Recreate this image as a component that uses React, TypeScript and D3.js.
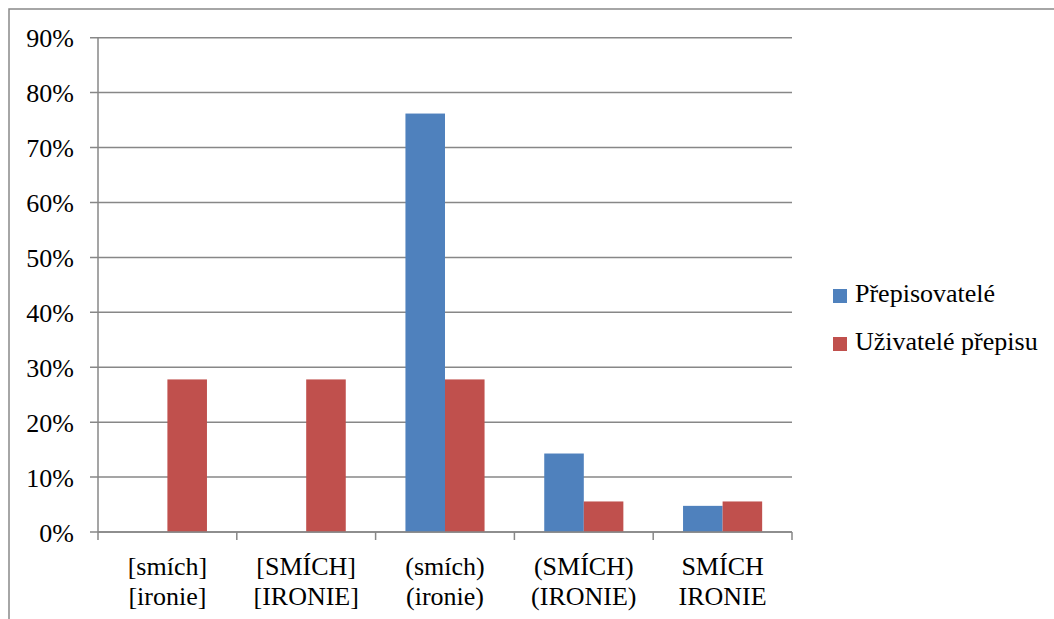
import React from "react";
import * as d3 from "d3";

const categories: string[][] = [
  ["[smích]", "[ironie]"],
  ["[SMÍCH]", "[IRONIE]"],
  ["(smích)", "(ironie)"],
  ["(SMÍCH)", "(IRONIE)"],
  ["SMÍCH", "IRONIE"],
];
const seriesNames = ["Přepisovatelé", "Uživatelé přepisu"];
const prepisovatele = [0, 0, 0.7619, 0.1429, 0.0476];
const uzivatele = [0.2778, 0.2778, 0.2778, 0.0556, 0.0556];
const yTicks = [0, 0.1, 0.2, 0.3, 0.4, 0.5, 0.6, 0.7, 0.8, 0.9];
const colors = ["#4F81BD", "#C0504D"];

const W = 1054;
const H = 619;
const left = 98;
const right = 792;
const top = 37.7;
const bottom = 532;
const font = "Liberation Serif, Tinos, Times New Roman, DejaVu Serif, serif";
const axisColor = "#878787";

export default function App() {
  const x = d3
    .scaleBand<number>()
    .domain(categories.map((_, i) => i))
    .range([left, right])
    .paddingInner(0)
    .paddingOuter(0);
  const y = d3.scaleLinear().domain([0, 0.9]).range([bottom, top]);
  const bw = x.bandwidth();
  const barW = bw * 0.285;
  const series = [prepisovatele, uzivatele];
  const textStyle = { fontFamily: font, fontSize: 26 };

  return (
    <div style={{ position: "absolute", left: 0, top: 0 }}>
      <svg width={W} height={H} style={{ display: "block", background: "#fff" }}>
        <rect x={9} y={9} width={1200} height={800} fill="none" stroke="#898989" strokeWidth={1.5} />
        {yTicks.map((t) => (
          <g key={t}>
            <line x1={left - 8} x2={right} y1={y(t)} y2={y(t)} stroke={axisColor} strokeWidth={1.5} />
            <text x={74} y={y(t) + 9.5} textAnchor="end" style={textStyle} fill="#000">
              {`${Math.round(t * 100)}%`}
            </text>
          </g>
        ))}
        {series.map((vals, s) =>
          vals.map((v, i) =>
            v > 0 ? (
              <rect
                key={`${s}-${i}`}
                x={(x(i) as number) + bw / 2 - barW + s * barW}
                y={y(v)}
                width={barW}
                height={y(0) - y(v)}
                fill={colors[s]}
              />
            ) : null
          )
        )}
        <line x1={left} x2={left} y1={top} y2={bottom} stroke={axisColor} strokeWidth={1.5} />
        <line x1={left} x2={right} y1={bottom} y2={bottom} stroke={axisColor} strokeWidth={1.5} />
        {d3.range(categories.length + 1).map((i) => {
          const xx = i < categories.length ? (x(i) as number) : right;
          return (
            <line key={i} x1={xx} x2={xx} y1={bottom} y2={bottom + 8} stroke={axisColor} strokeWidth={1.5} />
          );
        })}
        {categories.map((lines, i) => (
          <text key={i} x={(x(i) as number) + bw / 2} textAnchor="middle" style={textStyle} fill="#000">
            {lines.map((l, j) => (
              <tspan key={j} x={(x(i) as number) + bw / 2} y={575 + j * 30}>
                {l}
              </tspan>
            ))}
          </text>
        ))}
        {seriesNames.map((name, s) => (
          <g key={name}>
            <rect x={833} y={289 + s * 48} width={14} height={14} fill={colors[s]} />
            <text x={855} y={302 + s * 48} style={textStyle} fill="#000">
              {name}
            </text>
          </g>
        ))}
      </svg>
    </div>
  );
}
